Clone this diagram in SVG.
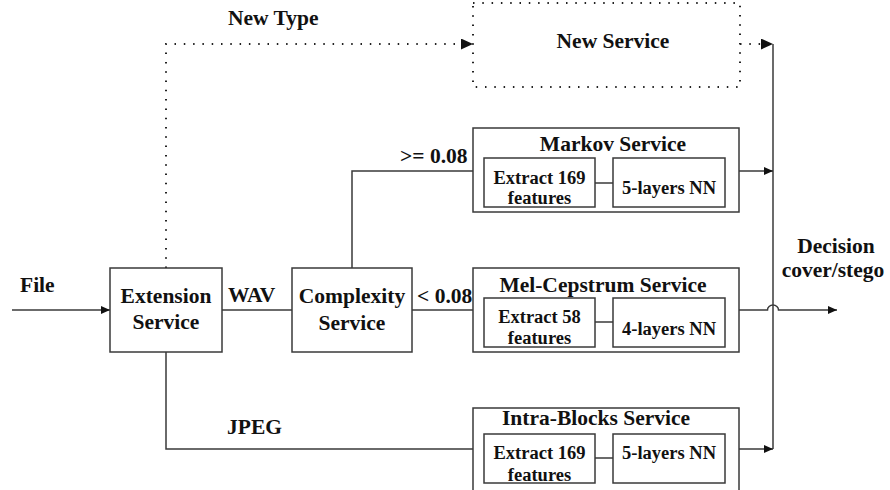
<svg xmlns="http://www.w3.org/2000/svg" width="890" height="490" viewBox="0 0 890 490">
<defs>
<marker id="arr" markerWidth="9" markerHeight="8" refX="9" refY="4" orient="auto" markerUnits="userSpaceOnUse">
<path d="M0,0 L9,4 L0,8 Z" fill="#111"/>
</marker>
<marker id="arrL" markerWidth="12" markerHeight="11" refX="12" refY="5.5" orient="auto" markerUnits="userSpaceOnUse">
<path d="M0,0 L12,5.5 L0,11 Z" fill="#111"/>
</marker>
<style>
.t{font-family:"Liberation Serif","Times New Roman",serif;font-weight:bold;font-size:21.5px;fill:#111}
.s{font-family:"Liberation Serif","Times New Roman",serif;font-weight:bold;font-size:18.5px;fill:#111}
.m{text-anchor:middle}
.box{fill:#fff;stroke:#3a3a3a;stroke-width:1.5}
.ln{fill:none;stroke:#3a3a3a;stroke-width:1.5}
.dot{fill:none;stroke:#222;stroke-width:2;stroke-dasharray:1.5 7.8}
</style>
</defs>
<rect width="890" height="490" fill="#fff"/>

<g id="connectors">
<line class="ln" x1="12" y1="310" x2="110" y2="310" marker-end="url(#arr)"/>
<line class="ln" x1="222" y1="310" x2="292" y2="310"/>
<polyline class="ln" points="352,268 352,171 473,171"/>
<line class="ln" x1="412" y1="310" x2="473" y2="310"/>
<polyline class="ln" points="166,352 166,449 473,449"/>
<polyline class="dot" points="166,268 166,44 462,44"/>
<line x1="461" y1="44" x2="473" y2="44" stroke="none" marker-end="url(#arrL)"/>
<line class="dot" x1="740" y1="44" x2="762" y2="44"/>
<line x1="761" y1="44" x2="773" y2="44" stroke="none" marker-end="url(#arrL)"/>
<line class="ln" x1="773" y1="44" x2="773" y2="449"/>
<line class="ln" x1="739" y1="171" x2="773" y2="171" marker-end="url(#arr)"/>
<line class="ln" x1="739" y1="449" x2="773" y2="449" marker-end="url(#arr)"/>
<path class="ln" d="M739,310 L767.5,310 A5.5,5 0 0 1 778.5,310 L837,310" marker-end="url(#arr)"/>
</g>

<g id="labels">
<text class="t" x="20" y="292">File</text>
<text class="t" x="228" y="302">WAV</text>
<text class="t" x="227" y="434">JPEG</text>
<text class="t" x="228" y="25">New Type</text>
<text class="t" x="400" y="163">&gt;= 0.08</text>
<text class="t" x="417" y="303">&lt; 0.08</text>
<text class="t m" x="836" y="253">Decision</text>
<text class="t m" x="833" y="277">cover/stego</text>
</g>

<g id="extension">
<rect class="box" x="110" y="268" width="112" height="84"/>
<text class="t m" x="166" y="303">Extension</text>
<text class="t m" x="166" y="329">Service</text>
</g>

<g id="complexity">
<rect class="box" x="292" y="268" width="120" height="84"/>
<text class="t m" x="352" y="303">Complexity</text>
<text class="t m" x="352" y="330">Service</text>
</g>

<g id="newservice">
<rect class="dot" x="473" y="3" width="267" height="84"/>
<text class="t m" x="613" y="48">New Service</text>
</g>

<g id="markov">
<rect class="box" x="473" y="128" width="266" height="84"/>
<text class="t m" x="613" y="151">Markov Service</text>
<line class="ln" x1="595" y1="183" x2="613" y2="183"/>
<rect class="box" x="484" y="158" width="111" height="49"/>
<rect class="box" x="613" y="158" width="112" height="49"/>
<text class="s m" x="539.5" y="184">Extract 169</text>
<text class="s m" x="539.5" y="204">features</text>
<text class="s m" x="669" y="194">5-layers NN</text>
</g>

<g id="melcepstrum">
<rect class="box" x="473" y="268" width="266" height="84"/>
<text class="t m" x="603" y="292">Mel-Cepstrum Service</text>
<line class="ln" x1="595" y1="322" x2="613" y2="322"/>
<rect class="box" x="484" y="298" width="111" height="49"/>
<rect class="box" x="613" y="298" width="112" height="49"/>
<text class="s m" x="539.5" y="323">Extract 58</text>
<text class="s m" x="539.5" y="344">features</text>
<text class="s m" x="669" y="335">4-layers NN</text>
</g>

<g id="intrablocks">
<rect class="box" x="473" y="408" width="266" height="90"/>
<text class="t m" x="596" y="425">Intra-Blocks Service</text>
<line class="ln" x1="595" y1="458" x2="613" y2="458"/>
<rect class="box" x="484" y="434" width="111" height="49"/>
<rect class="box" x="613" y="434" width="112" height="49"/>
<text class="s m" x="539.5" y="459">Extract 169</text>
<text class="s m" x="539.5" y="481">features</text>
<text class="s m" x="669" y="459">5-layers NN</text>
</g>
</svg>
